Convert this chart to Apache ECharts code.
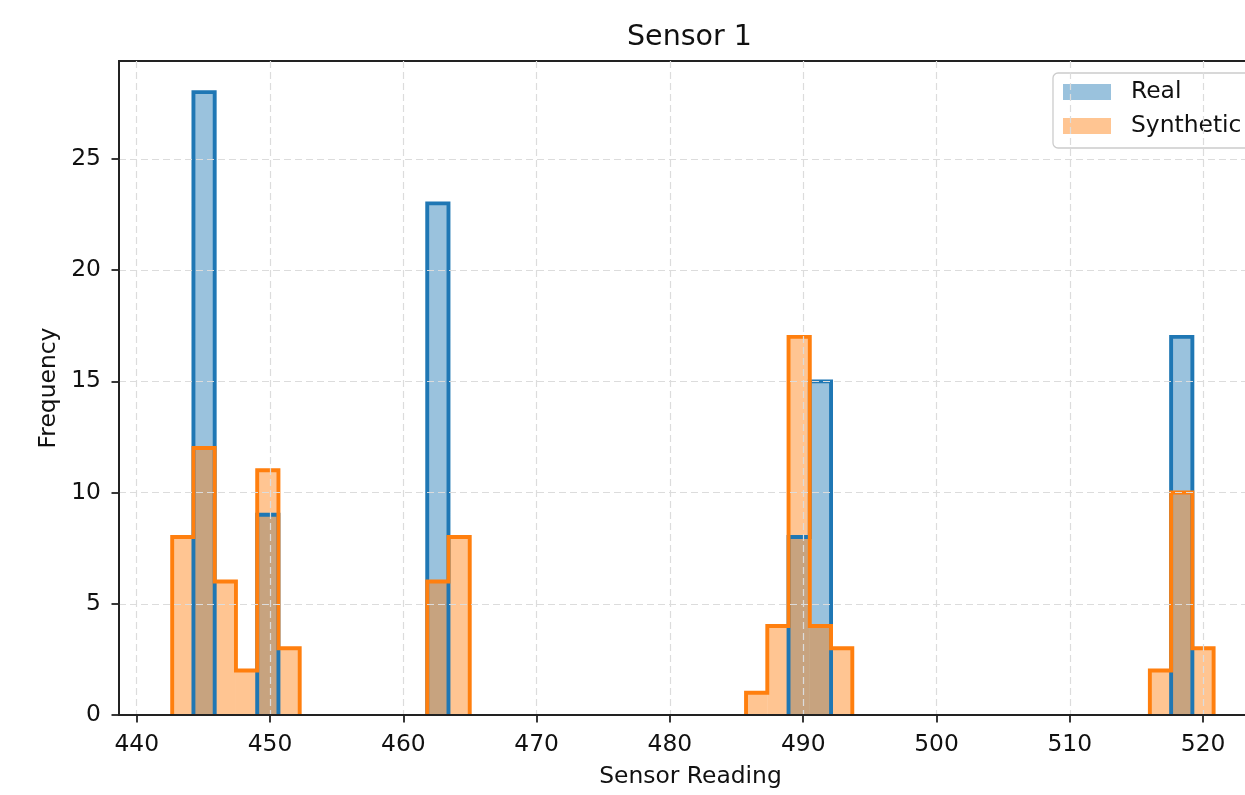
<!DOCTYPE html>
<html>
<head>
<meta charset="utf-8">
<script src="https://cdn.jsdelivr.net/npm/echarts@6/dist/echarts.min.js"></script>
<style>
  html, body { margin: 0; padding: 0; background: #fff; }
  #chart { width: 1245px; height: 795px; }
</style>
</head>
<body>
<div id="chart"></div>
<script>
// histogram bins (shared by both series)
const binStart = 442.66;
const binWidth = 1.5945;

// counts per bin, 49 bins
const realCounts = [
  0, 28, 0, 0, 9, 0, 0, 0, 0, 0,
  0, 0, 23, 0, 0, 0, 0, 0, 0, 0,
  0, 0, 0, 0, 0, 0, 0, 0, 0, 8,
  15, 0, 0, 0, 0, 0, 0, 0, 0, 0,
  0, 0, 0, 0, 0, 0, 0, 17, 0
];
const synthCounts = [
  8, 12, 6, 2, 11, 3, 0, 0, 0, 0,
  0, 0, 6, 8, 0, 0, 0, 0, 0, 0,
  0, 0, 0, 0, 0, 0, 0, 1, 4, 17,
  4, 3, 0, 0, 0, 0, 0, 0, 0, 0,
  0, 0, 0, 0, 0, 0, 2, 10, 3
];

const xTicks = [440, 450, 460, 470, 480, 490, 500, 510, 520];
const yTicks = [0, 5, 10, 15, 20, 25];

const FONT = 'DejaVu Sans';
const FS = 23.4;

// bars for the filled part: [left, right, count]
function binRects(counts) {
  const out = [];
  counts.forEach(function (c, i) {
    if (c > 0) out.push([binStart + i * binWidth, binStart + (i + 1) * binWidth, c]);
  });
  return out;
}

// step outline, broken where counts are zero
function stepOutline(counts) {
  const pts = [];
  let i = 0;
  while (i < counts.length) {
    if (counts[i] === 0) { i++; continue; }
    pts.push([binStart + i * binWidth, 0]);
    while (i < counts.length && counts[i] > 0) {
      pts.push([binStart + i * binWidth, counts[i]]);
      pts.push([binStart + (i + 1) * binWidth, counts[i]]);
      i++;
    }
    pts.push([binStart + i * binWidth, 0]);
    pts.push(['-', '-']);
  }
  return pts;
}

function renderBin(params, api) {
  const p0 = api.coord([api.value(0), api.value(2)]);
  const p1 = api.coord([api.value(1), 0]);
  return {
    type: 'rect',
    shape: { x: p0[0], y: p0[1], width: p1[0] - p0[0], height: p1[1] - p0[1] },
    style: { fill: api.visual('color') }
  };
}

const chart = echarts.init(document.getElementById('chart'));

chart.setOption({
  animation: false,
  backgroundColor: '#fff',
  title: {
    text: 'Sensor 1',
    left: 627,
    top: 23,
    padding: 0,
    textStyle: { fontFamily: FONT, fontSize: 28.5, fontWeight: 'normal', color: '#111' }
  },
  legend: {
    data: ['Real', 'Synthetic'],
    orient: 'vertical',
    left: 1053,
    top: 73,
    padding: [7, 40, 10, 10],
    itemGap: 10,
    itemWidth: 48,
    itemHeight: 16,
    icon: 'rect',
    selectedMode: false,
    backgroundColor: 'rgba(255,255,255,0.85)',
    borderColor: '#cccccc',
    borderWidth: 1.3,
    borderRadius: 5,
    textStyle: {
      fontFamily: FONT, fontSize: FS, color: '#111',
      lineHeight: 24, padding: [0, 0, 0, 15]
    }
  },
  grid: {
    left: 119, top: 61, width: 1143, height: 654,
    show: true, borderColor: '#222', borderWidth: 1.8,
    containLabel: false,
    outerBoundsMode: 'none'
  },
  xAxis: {
    type: 'value',
    min: 438.67,
    max: 524.42,
    name: 'Sensor Reading',
    nameLocation: 'middle',
    nameGap: 50,
    nameTextStyle: { fontFamily: FONT, fontSize: FS, color: '#111' },
    axisLine: { show: true, lineStyle: { color: '#222', width: 1.8 } },
    axisTick: { show: true, length: 7.5, customValues: xTicks, lineStyle: { color: '#222', width: 1.8 } },
    axisLabel: {
      customValues: xTicks, margin: 18,
      fontFamily: FONT, fontSize: FS, color: '#111', lineHeight: 23
    },
    splitLine: { show: true, lineStyle: { color: '#dcdcdc', width: 1.2, type: [7, 4] } },
    z: 10
  },
  yAxis: {
    type: 'value',
    min: 0,
    max: 29.4,
    name: 'Frequency',
    nameLocation: 'middle',
    nameGap: 46,
    nameRotate: 90,
    nameTextStyle: { fontFamily: FONT, fontSize: FS, color: '#111' },
    axisLine: { show: true, lineStyle: { color: '#222', width: 1.8 } },
    axisTick: { show: true, length: 7.5, customValues: yTicks, lineStyle: { color: '#222', width: 1.8 } },
    axisLabel: {
      customValues: yTicks, margin: 18,
      fontFamily: FONT, fontSize: FS, color: '#111'
    },
    splitLine: { show: true, lineStyle: { color: '#dcdcdc', width: 1.2, type: [7, 4] } },
    z: 10
  },
  series: [
    {
      name: 'Real',
      type: 'custom',
      renderItem: renderBin,
      encode: { x: [0, 1], y: 2 },
      itemStyle: { color: 'rgba(31,119,180,0.45)' },
      data: binRects(realCounts),
      z: 2
    },
    {
      name: 'Synthetic',
      type: 'custom',
      renderItem: renderBin,
      encode: { x: [0, 1], y: 2 },
      itemStyle: { color: 'rgba(255,127,14,0.45)' },
      data: binRects(synthCounts),
      z: 3
    },
    {
      name: 'Real outline',
      type: 'line',
      data: stepOutline(realCounts),
      showSymbol: false,
      connectNulls: false,
      lineStyle: { color: '#1f77b4', width: 3.9, join: 'miter', cap: 'butt' },
      z: 4
    },
    {
      name: 'Synthetic outline',
      type: 'line',
      data: stepOutline(synthCounts),
      showSymbol: false,
      connectNulls: false,
      lineStyle: { color: '#ff7f0e', width: 3.9, join: 'miter', cap: 'butt' },
      z: 5
    }
  ]
});
</script>
</body>
</html>
